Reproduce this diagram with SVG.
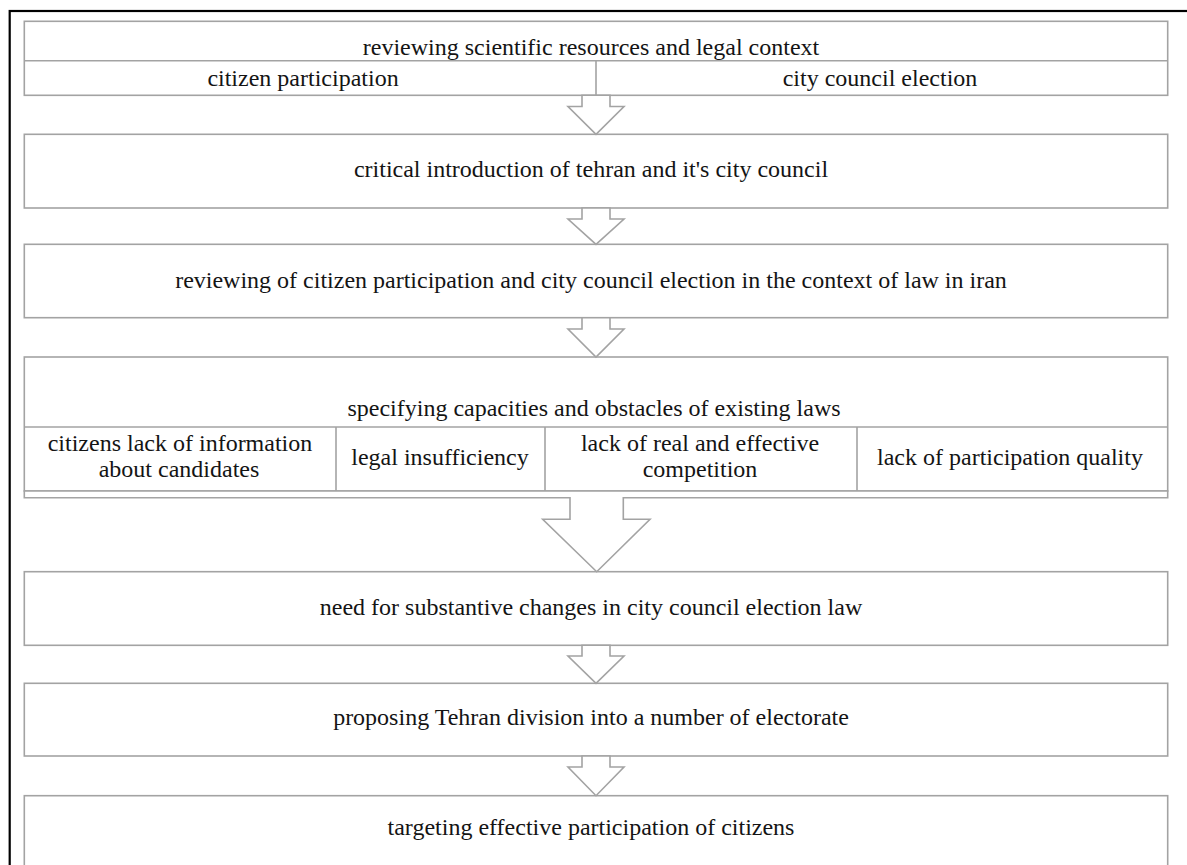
<svg xmlns="http://www.w3.org/2000/svg" width="1187" height="865" viewBox="0 0 1187 865">
<style>
  .box { fill: #ffffff; stroke: #a3a3a3; stroke-width: 1.6; }
  .div { stroke: #a3a3a3; stroke-width: 1.6; fill: none; }
  .arr { fill: #ffffff; stroke: #a3a3a3; stroke-width: 1.6; stroke-linejoin: miter; }
  .t { font-family: "Liberation Serif", "Times New Roman", serif; font-size: 24px; fill: #141414; text-anchor: middle; }
</style>
<rect x="0" y="0" width="1187" height="865" fill="#ffffff"/>
<rect x="9.7" y="11" width="1200" height="900" fill="none" stroke="#000000" stroke-width="2.2"/>

<g id="node-review-resources">
  <rect class="box" x="24.3" y="21.3" width="1143.4" height="74"/>
  <line class="div" x1="24.3" y1="60.7" x2="1167.7" y2="60.7"/>
  <line class="div" x1="596" y1="60.7" x2="596" y2="95.3"/>
  <text class="t" x="591" y="55">reviewing scientific resources and legal context</text>
  <text class="t" x="303" y="85.5">citizen participation</text>
  <text class="t" x="880" y="85.5">city council election</text>
</g>

<g id="node-critical-intro">
  <rect class="box" x="24.3" y="134.3" width="1143.4" height="73.7"/>
  <text class="t" x="591" y="177">critical introduction of tehran and it's city council</text>
</g>

<g id="node-review-law">
  <rect class="box" x="24.3" y="244.3" width="1143.4" height="73.4"/>
  <text class="t" x="591" y="287.5">reviewing of citizen participation and city council election in the context of law in iran</text>
</g>

<g id="node-capacities">
  <rect class="box" x="24.3" y="357" width="1143.4" height="134"/>
  <line class="div" x1="24.3" y1="427" x2="1167.7" y2="427"/>
  <line class="div" x1="336" y1="427" x2="336" y2="491"/>
  <line class="div" x1="545" y1="427" x2="545" y2="491"/>
  <line class="div" x1="857" y1="427" x2="857" y2="491"/>
  <text class="t" x="594" y="416">specifying capacities and obstacles of existing laws</text>
  <text class="t" x="180" y="451">citizens lack of information</text>
  <text class="t" x="179" y="477">about candidates</text>
  <text class="t" x="440" y="465">legal insufficiency</text>
  <text class="t" x="700" y="451">lack of real and effective</text>
  <text class="t" x="700" y="477">competition</text>
  <text class="t" x="1010" y="465">lack of participation quality</text>
</g>

<g id="node-need-changes">
  <rect class="box" x="24.3" y="571.7" width="1143.4" height="73.6"/>
  <text class="t" x="591" y="615">need for substantive changes in city council election law</text>
</g>

<g id="node-proposing">
  <rect class="box" x="24.3" y="683.3" width="1143.4" height="72.7"/>
  <text class="t" x="591" y="725">proposing Tehran division into a number of electorate</text>
</g>

<g id="node-targeting">
  <rect class="box" x="24.3" y="795.7" width="1143.4" height="80"/>
  <text class="t" x="591" y="835">targeting effective participation of citizens</text>
</g>

<g id="connectors">
  <polygon class="arr" points="582,95.3 582,106.5 568,106.5 596,134.3 624,106.5 610,106.5 610,95.3"/>
  <polygon class="arr" points="582,208 582,219 568,219 596,244.3 624,219 610,219 610,208"/>
  <polygon class="arr" points="582,317.7 582,329 568,329 596,357 624,329 610,329 610,317.7"/>
  <polygon class="arr" points="24.3,491 24.3,497.7 570,497.7 570,519.3 542.7,519.3 596.7,571.7 650,519.3 623.3,519.3 623.3,497.7 1167.7,497.7 1167.7,491"/>
  <polygon class="arr" points="582,645.3 582,656 568,656 596,683.3 624,656 610,656 610,645.3"/>
  <polygon class="arr" points="582,756 582,767 568,767 596,795.7 624,767 610,767 610,756"/>
</g>
</svg>
